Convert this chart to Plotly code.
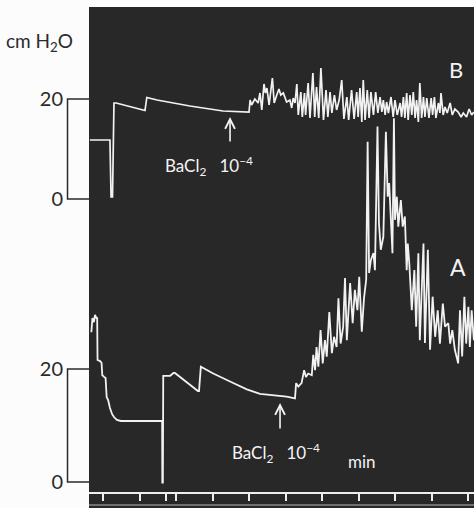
import plotly.graph_objects as go

# ---- Trace B (upper record, cm H2O) ----
b_time = [-0.36, 0.19, 0.22, 0.26, 0.30, 0.36, 1.15, 1.20, 1.48, 2.38, 3.29, 4.00,
          4.03, 4.07, 4.16, 4.25, 4.30, 4.35, 4.41, 4.45, 4.49, 4.55,
          4.64, 4.69, 4.76, 4.82, 4.87, 4.94, 5.03, 5.12, 5.17, 5.21,
          5.26, 5.31, 5.35, 5.42, 5.46, 5.52, 5.55, 5.62, 5.67, 5.75,
          5.80, 5.85, 5.91, 5.97, 6.04, 6.11, 6.16, 6.22, 6.27, 6.34,
          6.40, 6.47, 6.54, 6.60, 6.68, 6.73, 6.81, 6.88, 6.95, 6.99,
          7.04, 7.09, 7.13, 7.18, 7.24, 7.29, 7.34, 7.41, 7.47, 7.53,
          7.59, 7.64, 7.68, 7.73, 7.77, 7.82, 7.89, 7.95, 8.00, 8.06,
          8.14, 8.18, 8.23, 8.27, 8.32, 8.36, 8.41, 8.46, 8.50, 8.55,
          8.59, 8.64, 8.68, 8.73, 8.78, 8.82, 8.87, 8.93, 8.99, 9.03,
          9.08, 9.12, 9.19, 9.23, 9.26, 9.32, 9.37, 9.43, 9.51, 9.57,
          9.64, 9.73, 9.81, 9.87, 9.96, 10.03, 10.10, 10.16]
b_pressure = [11.8, 11.8, 0.4, 0.4, 19.2, 19.2, 17.7, 20.3, 19.8, 18.6, 17.6, 17.4,
              19.8, 18.8, 20.0, 19.2, 21.2, 17.8, 23.0, 21.2, 22.2, 18.8,
              24.2, 19.2, 20.8, 22.0, 20.8, 21.2, 19.4, 19.8, 18.2, 20.2,
              19.2, 23.0, 16.8, 21.4, 16.4, 21.2, 16.8, 23.2, 16.2, 25.2,
              16.4, 22.4, 16.2, 26.2, 15.8, 21.8, 16.4, 21.4, 17.2, 20.8,
              17.8, 19.8, 23.8, 16.0, 20.4, 15.8, 21.8, 16.0, 21.4, 16.4,
              22.2, 15.4, 23.8, 15.8, 21.8, 16.2, 21.4, 16.8, 21.4, 17.2,
              20.4, 17.4, 19.8, 16.8, 19.4, 17.2, 20.4, 16.4, 19.8, 16.8,
              19.2, 16.4, 20.4, 16.2, 21.2, 15.8, 20.8, 16.8, 21.4, 16.2,
              19.8, 15.4, 23.2, 16.2, 20.4, 16.4, 20.2, 16.2, 20.2, 16.8,
              20.4, 16.2, 19.2, 17.2, 21.2, 16.8, 18.4, 17.2, 19.2, 16.8,
              18.0, 17.4, 16.4, 17.2, 16.4, 18.0, 16.8, 17.4]

# ---- Trace A (lower record, cm H2O) ----
a_time = [-0.32, -0.29, -0.25, -0.22, -0.18, -0.16, -0.15, -0.08, -0.04, -0.02,
          0.03, 0.07, 0.10, 0.14, 0.19, 0.25, 0.30, 0.38, 0.49, 1.62,
          1.625, 1.64, 1.65, 1.84, 1.93, 1.97, 2.60, 2.63, 2.68, 3.02,
          3.48, 3.94, 4.30, 4.85, 5.03, 5.26, 5.29, 5.35, 5.44, 5.51,
          5.56, 5.62, 5.72, 5.76, 5.81, 5.85, 5.90, 5.96, 6.02, 6.08,
          6.13, 6.20, 6.27, 6.33, 6.40, 6.45, 6.51, 6.58, 6.63, 6.68,
          6.77, 6.84, 6.90, 6.97, 7.02, 7.09, 7.15, 7.21, 7.25, 7.29,
          7.34, 7.41, 7.45, 7.52, 7.56, 7.61, 7.68, 7.75, 7.80, 7.84,
          7.89, 7.93, 7.97, 8.00, 8.05, 8.09, 8.16, 8.21, 8.27, 8.32,
          8.35, 8.39, 8.46, 8.53, 8.58, 8.64, 8.68, 8.78, 8.82, 8.90,
          8.96, 9.03, 9.10, 9.17, 9.23, 9.31, 9.37, 9.46, 9.51, 9.57,
          9.64, 9.73, 9.78, 9.84, 9.90, 9.95, 10.01, 10.05, 10.10, 10.16]
a_pressure = [26.5, 29.0, 28.3, 29.6, 29.0, 29.0, 21.6, 21.4, 21.1, 18.9,
              18.6, 18.4, 15.0, 14.5, 13.1, 12.0, 11.5, 11.0, 10.8, 10.8,
              -0.1, -0.1, 18.8, 18.8, 19.3, 19.3, 16.1, 16.1, 20.4, 19.2,
              17.8, 16.4, 15.6, 15.2, 15.1, 14.8, 17.5, 16.9, 17.5, 19.8,
              18.6, 19.2, 18.9, 22.5, 19.8, 23.9, 20.4, 26.9, 21.0, 25.1,
              22.2, 30.1, 22.8, 25.7, 23.9, 32.5, 24.5, 27.5, 36.1, 25.1,
              35.2, 28.1, 34.0, 30.4, 36.3, 26.6, 32.5, 35.8, 60.2, 37.0,
              39.3, 40.5, 37.5, 62.9, 45.8, 41.1, 43.4, 62.0, 50.5, 52.9,
              44.6, 40.5, 64.4, 46.4, 50.5, 45.2, 49.9, 45.2, 47.0, 37.5,
              42.2, 38.8, 30.4, 37.5, 27.5, 40.5, 25.1, 42.2, 24.6, 41.1,
              23.4, 32.8, 25.7, 30.4, 24.5, 31.6, 27.5, 28.1, 24.5, 26.9,
              23.4, 21.0, 30.4, 22.2, 32.8, 24.5, 31.0, 23.9, 30.4, 25.1]

minute_ticks = [0, 1, 1.73, 2, 3, 4, 5, 6, 7, 8, 9, 10]
scale_ticks = [0, 20]
scale_labels = ["0", "20"]

FONT = "Lato"
TRACE_COL = "#f2f2f2"
INK = "#2a2a2a"

fig = go.Figure()
fig.add_trace(go.Scatter(x=b_time, y=b_pressure, mode="lines", yaxis="y",
                         line=dict(color=TRACE_COL, width=1.7), hoverinfo="skip"))
fig.add_trace(go.Scatter(x=a_time, y=a_pressure, mode="lines", yaxis="y2",
                         line=dict(color=TRACE_COL, width=1.8), hoverinfo="skip"))

yax_common = dict(tickvals=scale_ticks, ticktext=scale_labels, ticks="",
                  showgrid=False, zeroline=False, showline=False,
                  tickfont=dict(family=FONT, size=20, color=INK),
                  ticklabelstandoff=25)

fig.update_layout(
    width=474, height=508,
    margin=dict(l=89, r=0, t=7, b=0),
    paper_bgcolor="#fcfcfc", plot_bgcolor="#282828",
    showlegend=False,
    xaxis=dict(range=[-0.384, 10.164], anchor="free", position=0.030,
               showline=True, linecolor="#eeeeee", linewidth=2,
               ticks="outside", ticklen=7, tickwidth=2, tickcolor="#eeeeee",
               tickvals=minute_ticks, showticklabels=False,
               showgrid=False, zeroline=False),
    yaxis=dict(range=[-61.8, 38.4], **yax_common),
    yaxis2=dict(range=[-4.60, 84.07], overlaying="y", side="left", **yax_common),
)

# scale brackets (0-20 cm H2O) for each record
x_in, x_out = 0.002, -0.0558
for yr in ["y", "y2"]:
    fig.add_shape(type="path", xref="paper", yref=yr,
                  path=f"M {x_in},20 L {x_out},20 L {x_out},0 L {x_in},0",
                  line=dict(color=INK, width=1.5))

# faint lower edge line of the time strip
fig.add_shape(type="line", xref="paper", yref="paper", x0=0, x1=1, y0=0.006, y1=0.006,
              line=dict(color="#8a8a8a", width=1.5))

white = dict(family=FONT, color="#f4f4f4")
label_txt = "BaCl<sub>2</sub>\u00a0\u00a0\u00a010<sup>\u22124</sup>"
ann = [
    dict(text="cm H<sub>2</sub>O", xref="paper", yref="paper", x=-0.221, y=0.930,
         xanchor="left", yanchor="middle", showarrow=False,
         font=dict(family=FONT, size=19, color=INK)),
    dict(text="B", xref="x", yref="y", x=9.67, y=26.0, showarrow=False,
         font=dict(size=22, **white)),
    dict(text="A", xref="x", yref="y2", x=9.73, y=38.1, showarrow=False,
         font=dict(size=23, **white)),
    dict(text=label_txt, xref="x", yref="y",
         x=2.90, y=6.6, showarrow=False, font=dict(size=17, **white)),
    dict(text=label_txt, xref="x", yref="y2",
         x=4.74, y=5.1, showarrow=False, font=dict(size=17, **white)),
    dict(text="", xref="x", yref="y", x=3.48, y=16.4, ax=0, ay=26, showarrow=True,
         arrowhead=5, arrowsize=1.2, arrowwidth=1.6, arrowcolor="#f4f4f4"),
    dict(text="", xref="x", yref="y2", x=4.85, y=14.0, ax=0, ay=27, showarrow=True,
         arrowhead=5, arrowsize=1.2, arrowwidth=1.6, arrowcolor="#f4f4f4"),
    dict(text="min", xref="x", yref="paper", x=7.10, y=0.068, showarrow=False,
         font=dict(size=17, **white)),
]
fig.update_layout(annotations=ann)

fig.write_html("out.html", config={"displayModeBar": False},
               post_script="document.body.style.margin='0';")
